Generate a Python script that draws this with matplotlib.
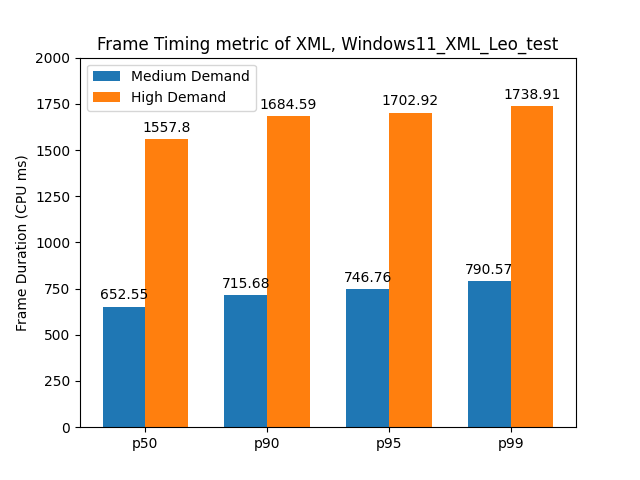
import matplotlib
matplotlib.use("Agg")
import matplotlib.pyplot as plt
import numpy as np

# {{{ data
percentiles = ["p50", "p90", "p95", "p99"]
medium_demand = [652.55, 715.68, 746.76, 790.57]
high_demand = [1557.8, 1684.59, 1702.92, 1738.91]
# }}}

x = np.arange(len(percentiles))
width = 0.35

fig, ax = plt.subplots(figsize=(6.4, 4.8), dpi=100)
bars_med = ax.bar(x - width / 2, medium_demand, width, label="Medium Demand")
bars_high = ax.bar(x + width / 2, high_demand, width, label="High Demand")

ax.bar_label(bars_med, padding=3)
ax.bar_label(bars_high, padding=3)

ax.set_ylabel("Frame Duration (CPU ms)")
ax.set_title("Frame Timing metric of XML, Windows11_XML_Leo_test")
ax.set_xticks(x)
ax.set_xticklabels(percentiles)
ax.set_ylim(0, 2000)
ax.legend(loc="upper left")

fig.savefig("out.png")
